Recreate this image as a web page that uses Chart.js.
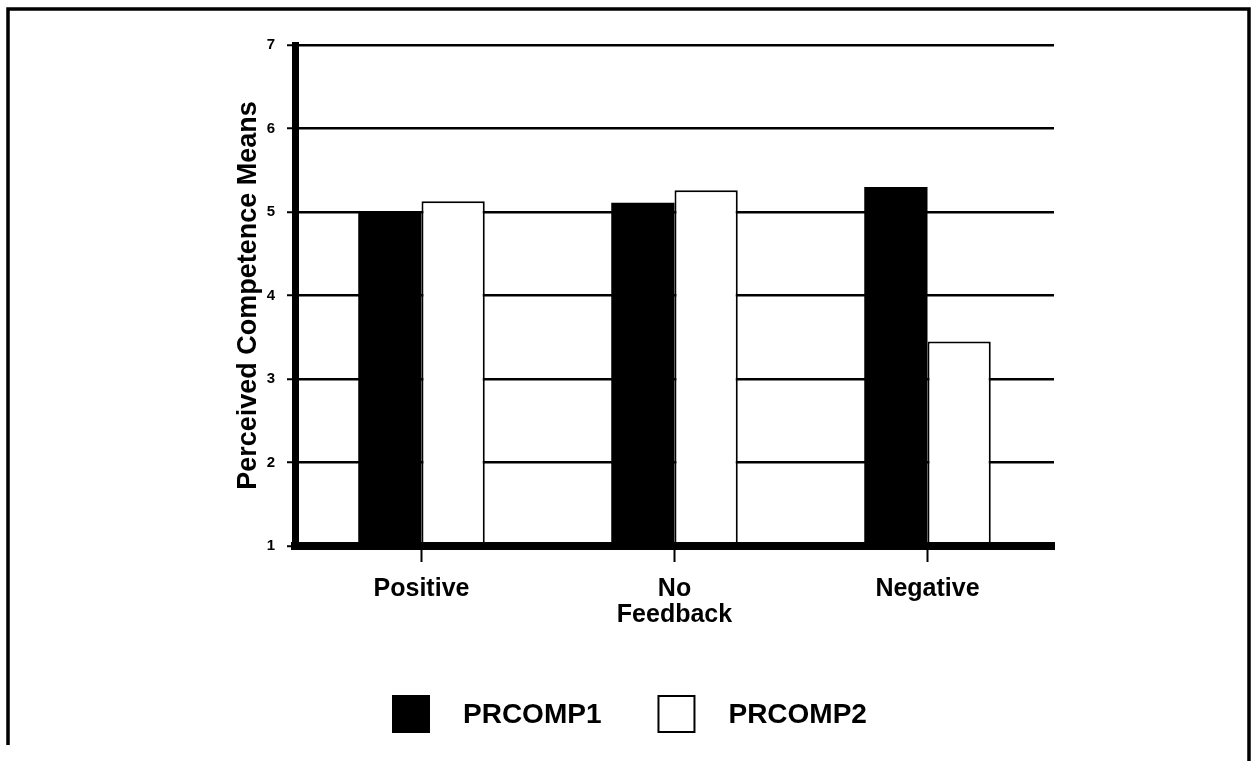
<!DOCTYPE html>
<html>
<head>
<meta charset="utf-8">
<script src="https://cdn.jsdelivr.net/npm/chart.js@4/dist/chart.umd.min.js"></script>
<style>
  html, body { margin: 0; padding: 0; background: #fff; }
  canvas { display: block; }
</style>
</head>
<body>
<canvas id="c" width="1254" height="763"></canvas>
<script>
// Feedback conditions and perceived-competence means per measurement
const categories = ['Positive', 'No', 'Negative'];
const prcomp1 = [5.00, 5.11, 5.30];
const prcomp2 = [5.13, 5.26, 3.45];
const seriesNames = ['PRCOMP1', 'PRCOMP2'];
const yTitle = 'Perceived Competence Means';
const xTitle = 'Feedback';

const FONT = "'Liberation Sans', Arial, sans-serif";

// White page with a black frame on left, top and right
const framePlugin = {
  id: 'frame',
  beforeDraw(chart) {
    const ctx = chart.ctx;
    ctx.save();
    ctx.fillStyle = '#fff';
    ctx.fillRect(0, 0, chart.width, chart.height);
    ctx.strokeStyle = '#000';
    ctx.lineWidth = 3.5;
    ctx.beginPath();
    ctx.moveTo(8, chart.height - 18);
    ctx.lineTo(8, 9);
    ctx.lineTo(1249, 9);
    ctx.lineTo(1249, chart.height - 2);
    ctx.stroke();
    ctx.restore();
  }
};

// Legend below the axis: square swatch, wide gap, bold label
const swatchLegend = {
  id: 'swatchLegend',
  afterDraw(chart) {
    const ctx = chart.ctx;
    const box = 38, gap = 33, spacing = 56;
    const top = 695;
    let x = 392;
    ctx.save();
    ctx.font = 'bold 28px ' + FONT;
    ctx.textBaseline = 'middle';
    ctx.textAlign = 'left';
    chart.data.datasets.forEach(ds => {
      ctx.fillStyle = ds.backgroundColor;
      ctx.fillRect(x, top, box, box);
      ctx.lineWidth = 2;
      ctx.strokeStyle = '#000';
      ctx.strokeRect(x + 1, top + 1, box - 2, box - 2);
      ctx.fillStyle = '#000';
      ctx.fillText(ds.label, x + box + gap, top + box / 2 + 1);
      x += box + gap + ctx.measureText(ds.label).width + spacing;
    });
    ctx.restore();
  }
};

new Chart(document.getElementById('c'), {
  type: 'bar',
  data: {
    labels: categories,
    datasets: [
      {
        label: seriesNames[0],
        data: prcomp1,
        backgroundColor: '#000',
        borderColor: '#000',
        borderWidth: 0,
        categoryPercentage: 0.5,
        barPercentage: 1.0
      },
      {
        label: seriesNames[1],
        data: prcomp2,
        backgroundColor: '#fff',
        borderColor: '#000',
        borderWidth: 2,
        categoryPercentage: 0.5,
        barPercentage: 1.0
      }
    ]
  },
  options: {
    responsive: false,
    animation: false,
    layout: { padding: { left: 225, top: 45, right: 200, bottom: 133 } },
    plugins: {
      legend: { display: false },
      tooltip: { enabled: false }
    },
    scales: {
      x: {
        afterFit(scale) { scale.height = 84; },
        grid: {
          offset: false,
          drawOnChartArea: false,
          drawTicks: true,
          tickLength: 16,
          tickWidth: 2,
          tickColor: '#000',
          color: '#000'
        },
        border: { display: true, color: '#000', width: 8, z: 1 },
        ticks: {
          color: '#000',
          padding: 12,
          font: { family: FONT, size: 25, weight: 'bold' }
        },
        title: {
          display: true,
          text: xTitle,
          color: '#000',
          padding: { top: 0, bottom: 0 },
          font: { family: FONT, size: 25, weight: 'bold' }
        }
      },
      y: {
        min: 1,
        max: 7,
        afterFit(scale) { scale.width = 70; },
        grid: {
          color: '#000',
          lineWidth: 2.5,
          drawTicks: true,
          tickLength: 8,
          tickColor: '#000',
          tickWidth: 2
        },
        border: { display: true, color: '#000', width: 7 },
        ticks: {
          stepSize: 1,
          color: '#000',
          padding: 12,
          font: { family: FONT, size: 15, weight: 'bold' }
        },
        title: {
          display: true,
          text: yTitle,
          color: '#000',
          padding: { top: 7, bottom: 0 },
          font: { family: FONT, size: 27, weight: 'bold' }
        }
      }
    }
  },
  plugins: [framePlugin, swatchLegend]
});
</script>
</body>
</html>
